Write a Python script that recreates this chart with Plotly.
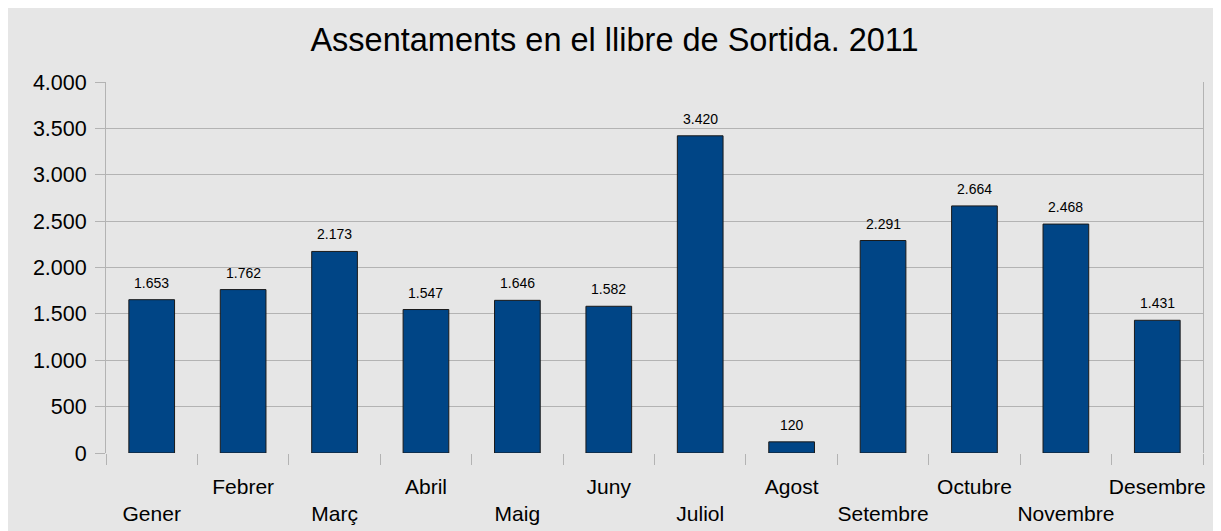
import plotly.graph_objects as go

months = ["Gener", "Febrer", "Març", "Abril", "Maig", "Juny", "Juliol",
          "Agost", "Setembre", "Octubre", "Novembre", "Desembre"]
values = [1653, 1762, 2173, 1547, 1646, 1582, 3420, 120, 2291, 2664, 2468, 1431]
y_ticks = [0, 500, 1000, 1500, 2000, 2500, 3000, 3500, 4000]

# staggered labels: odd positions go on the second row
tick_text = [("<br>" + m) if i % 2 == 0 else m for i, m in enumerate(months)]

FONT = "Liberation Sans, Arial, sans-serif"
GRID = "#b3b3b3"

fig = go.Figure(go.Bar(
    x=months, y=values,
    marker=dict(color="#004586", line=dict(color="#1a1a1a", width=1)),
    width=0.5,
    cliponaxis=False,
))

annotations = [
    dict(x=m, y=v, xref="x", yref="y", text=f"{v:,}".replace(",", "."),
         showarrow=False, yanchor="bottom", yshift=7,
         font=dict(size=14, family=FONT, color="#000000"))
    for m, v in zip(months, values)
]

fig.update_layout(
    width=1213, height=523,
    margin=dict(l=98, r=18, t=74, b=78),
    paper_bgcolor="#e6e6e6", plot_bgcolor="#e6e6e6",
    separators=",.",
    font=dict(family=FONT, color="#000000"),
    title=dict(text="Assentaments en el llibre de Sortida. 2011",
               x=0.5, xanchor="center", y=1 - 32 / 523, yanchor="middle",
               font=dict(size=32.5, family=FONT, color="#000000")),
    showlegend=False,
    annotations=annotations,
)

fig.update_xaxes(
    tickmode="array", tickvals=months, ticktext=tick_text, tickangle=0,
    tickson="boundaries", ticks="outside", ticklen=11, tickcolor=GRID,
    tickwidth=1, showgrid=False, showline=False, zeroline=False,
    automargin=False, ticklabelstandoff=19,
    tickfont=dict(size=21, family=FONT, color="#000000"),
)
fig.update_yaxes(
    range=[0, 4000], tickmode="array", tickvals=y_ticks,
    tickformat=",", ticks="outside", ticklen=10, tickcolor=GRID,
    showgrid=True, gridcolor=GRID, gridwidth=1,
    showline=True, linecolor=GRID, mirror=True, zeroline=False,
    automargin=False, ticklabelstandoff=4,
    tickfont=dict(size=21.5, family=FONT, color="#000000"),
)

fig.write_html("out.html")
